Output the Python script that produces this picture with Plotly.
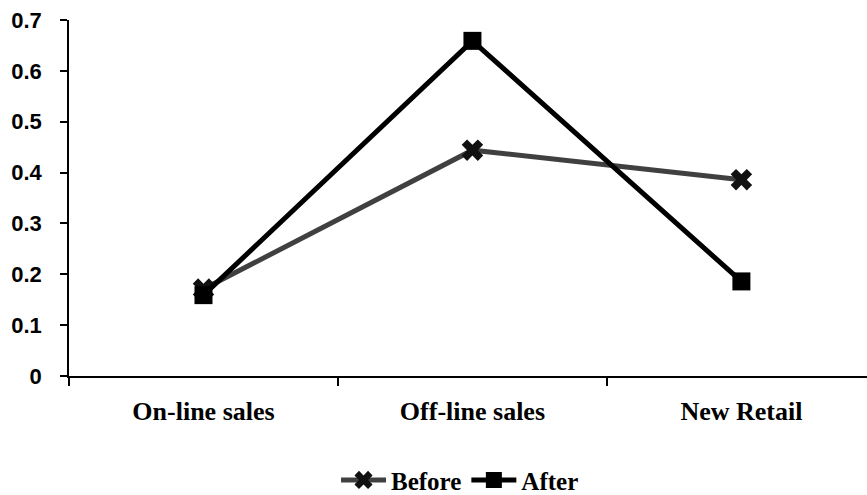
import plotly.graph_objects as go

categories = ["On-line sales", "Off-line sales", "New Retail"]
before_vals = [0.171, 0.444, 0.386]
after_vals = [0.159, 0.659, 0.186]
y_ticks = [0, 0.1, 0.2, 0.3, 0.4, 0.5, 0.6, 0.7]
y_tick_text = ["0", "0.1", "0.2", "0.3", "0.4", "0.5", "0.6", "0.7"]

fig = go.Figure()

fig.add_trace(go.Scatter(
    x=categories, y=before_vals, name="Before", mode="lines+markers",
    line=dict(color="#404040", width=5),
    marker=dict(symbol="x", size=19, color="#111111"),
))
fig.add_trace(go.Scatter(
    x=categories, y=after_vals, name="After", mode="lines+markers",
    line=dict(color="#000000", width=5),
    marker=dict(symbol="square", size=18, color="#000000"),
))

fig.update_layout(
    width=867, height=495,
    margin=dict(l=69, r=0, t=20, b=119, autoexpand=False),
    paper_bgcolor="white", plot_bgcolor="white",
    showlegend=True,
    legend=dict(
        orientation="h", x=0.49, xanchor="center", y=-0.228, yanchor="top",
        font=dict(family="Liberation Serif", size=25, color="#000000"),
        itemwidth=45, traceorder="normal",
    ),
    xaxis=dict(
        type="category", range=[-0.5, 2.467], automargin=False,
        tickson="boundaries", ticks="outside", ticklen=8, tickwidth=1.5,
        tickcolor="#000000", showline=True, linecolor="#000000", linewidth=1.5,
        showgrid=False, zeroline=False, ticklabelstandoff=11,
        tickfont=dict(family="Liberation Serif", size=26, color="#000000"),
    ),
    yaxis=dict(
        range=[0, 0.7], tickvals=y_ticks, ticktext=y_tick_text, automargin=False,
        ticks="outside", ticklen=7, tickwidth=1.5, tickcolor="#000000",
        showline=True, linecolor="#000000", linewidth=1.5,
        showgrid=False, zeroline=False, ticklabelstandoff=14,
        tickfont=dict(family="Liberation Sans", size=22, color="#000000"),
    ),
)
fig.update_yaxes(tickfont_weight="bold")
fig.update_xaxes(tickfont_weight="bold")
fig.update_layout(legend_font_weight="bold")

fig.write_html("out.html")
